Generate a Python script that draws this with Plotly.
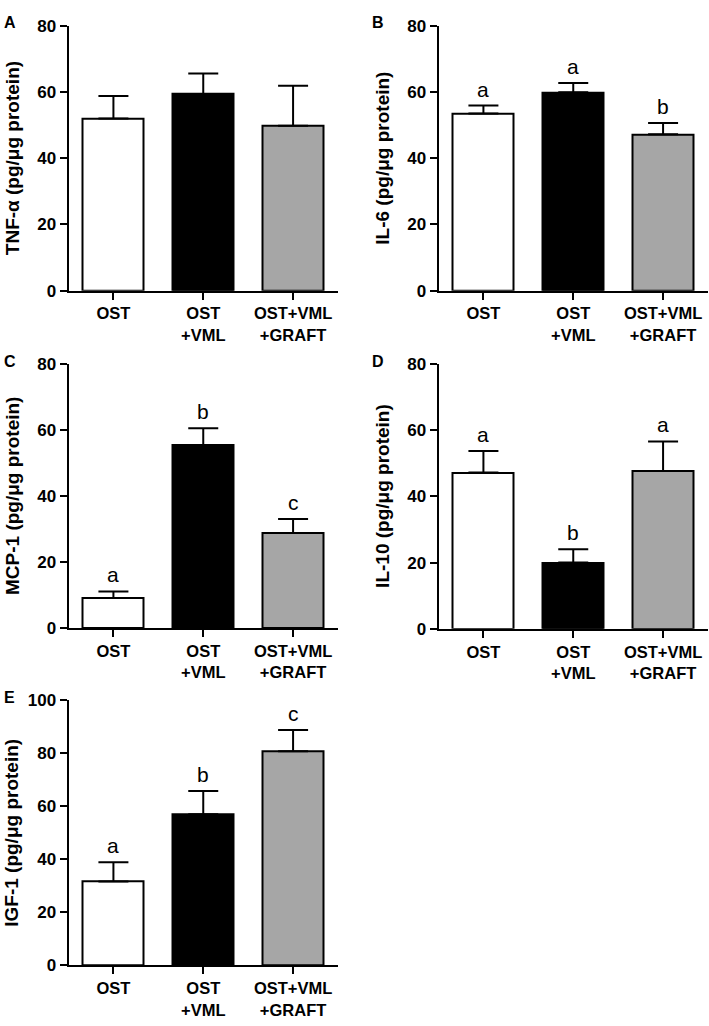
import plotly.graph_objects as go

W, H = 709, 1026

categories = ["OST", "OST<br>+VML", "OST+VML<br>+GRAFT"]
bar_colors = ["#FFFFFF", "#000000", "#A6A6A6"]

tnf_mean = [52.0, 59.4, 49.8]
tnf_err = [6.8, 6.2, 12.1]

il6_mean = [53.5, 59.9, 47.2]
il6_err = [2.4, 2.8, 3.4]
il6_letters = ["a", "a", "b"]

mcp_mean = [9.1, 55.4, 28.8]
mcp_err = [2.0, 5.1, 4.2]
mcp_letters = ["a", "b", "c"]

il10_mean = [47.2, 20.0, 47.7]
il10_err = [6.5, 4.0, 8.9]
il10_letters = ["a", "b", "a"]

igf_mean = [31.6, 57.0, 80.8]
igf_err = [7.3, 8.8, 8.0]
igf_letters = ["a", "b", "c"]

panels = [
    dict(tag="A", title="TNF-α (pg/μg protein)", mean=tnf_mean, err=tnf_err, letters=None,
         x=(68.5, 338), y=(17, 287), ymax=80),
    dict(tag="B", title="IL-6 (pg/μg protein)", mean=il6_mean, err=il6_err, letters=il6_letters,
         x=(438.5, 708), y=(17, 287), ymax=80),
    dict(tag="C", title="MCP-1 (pg/μg protein)", mean=mcp_mean, err=mcp_err, letters=mcp_letters,
         x=(68.5, 338), y=(361.7, 630.7), ymax=80),
    dict(tag="D", title="IL-10 (pg/μg protein)", mean=il10_mean, err=il10_err, letters=il10_letters,
         x=(438.5, 708), y=(361.7, 631.5), ymax=80),
    dict(tag="E", title="IGF-1 (pg/μg protein)", mean=igf_mean, err=igf_err, letters=igf_letters,
         x=(68.5, 338), y=(704.3, 974.3), ymax=100),
]

FONT = "Arial, 'Liberation Sans', Helvetica, sans-serif"

fig = go.Figure()
annotations = []

for i, p in enumerate(panels):
    n = "" if i == 0 else str(i + 1)
    xa, ya = "x" + n, "y" + n
    fig.add_trace(go.Bar(
        x=categories, y=p["mean"], xaxis=xa, yaxis=ya, width=0.68,
        marker=dict(color=bar_colors, line=dict(color="black", width=2)),
        error_y=dict(type="data", array=p["err"], arrayminus=[0, 0, 0], symmetric=False,
                     color="black", thickness=2, width=15),
        showlegend=False, hoverinfo="skip",
    ))
    xd = [p["x"][0] / W, p["x"][1] / W]
    yd = [1 - p["y"][1] / H, 1 - p["y"][0] / H]
    fig.layout["xaxis" + n] = dict(
        domain=xd, anchor=ya, type="category", range=[-0.5, 2.5],
        showline=True, linecolor="black", linewidth=2, showgrid=False, zeroline=False,
        ticks="outside", ticklen=7, tickwidth=2, tickcolor="black",
        tickfont=dict(family=FONT, size=16.5, color="black", weight="bold"),
    )
    fig.layout["yaxis" + n] = dict(
        domain=yd, anchor=xa, range=[0, p["ymax"]], dtick=20,
        showline=True, linecolor="black", linewidth=2, showgrid=False, zeroline=False,
        ticks="outside", ticklen=7, tickwidth=2, tickcolor="black",
        tickfont=dict(family=FONT, size=17, color="black", weight="bold"),
    )
    tx = 9.5 if p["x"][0] < 200 else 378
    annotations.append(dict(
        text=p["tag"], x=tx / W, y=1 - (p["y"][0] - 3) / H, xref="paper", yref="paper",
        xanchor="center", yanchor="middle", showarrow=False,
        font=dict(family=FONT, size=16, color="black", weight="bold"),
    ))
    ttx = 12 if p["x"][0] < 200 else 382.5
    annotations.append(dict(
        text=p["title"], x=ttx / W, y=1 - (p["y"][0] + p["y"][1]) / 2 / H,
        xref="paper", yref="paper", xanchor="center", yanchor="middle",
        textangle=-90, showarrow=False,
        font=dict(family=FONT, size=19, color="black", weight="bold"),
    ))
    if p["letters"]:
        for c, m, e, L in zip(categories, p["mean"], p["err"], p["letters"]):
            annotations.append(dict(
                text=L, x=c, y=m + e, xref=xa, yref=ya, xanchor="center", yanchor="bottom",
                yshift=3, showarrow=False,
                font=dict(family=FONT, size=21, color="black"),
            ))

fig.update_layout(
    width=W, height=H, margin=dict(l=0, r=0, t=0, b=0),
    paper_bgcolor="white", plot_bgcolor="white",
    annotations=annotations, bargap=0,
)

post = (
    "document.documentElement.style.margin='0';document.documentElement.style.padding='0';"
    "document.body.style.margin='0';document.body.style.padding='0';"
    "document.documentElement.style.overflow='hidden';document.body.style.overflow='hidden';"
    "var d=document.getElementById('{plot_id}');d.style.position='absolute';"
    "d.style.left='0px';d.style.top='0px';"
)
fig.write_html("out.html", config={"displayModeBar": False}, post_script=post)
